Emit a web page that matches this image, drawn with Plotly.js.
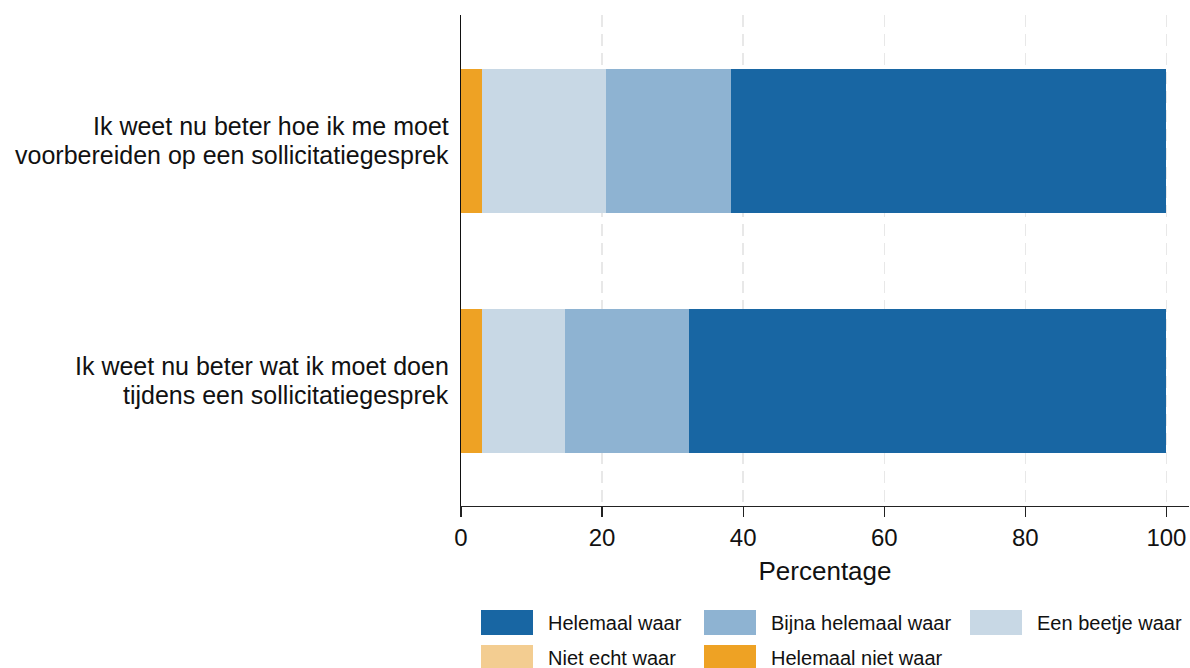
<!DOCTYPE html>
<html>
<head>
<meta charset="utf-8">
<script src="https://cdn.plot.ly/plotly-3.0.1.min.js"></script>
<style>html,body{margin:0;padding:0;background:#fff;}#chart{width:1190px;height:668px;}</style>
</head>
<body>
<div id="chart"></div>
<script>
// Categories (bottom to top)
var categories = [
  "Ik weet nu beter wat ik moet doen<br>tijdens een sollicitatiegesprek",
  "Ik weet nu beter hoe ik me moet<br>voorbereiden op een sollicitatiegesprek"
];
// Series in stacking order (left to right)
var helemaalNietWaar = [2.94, 2.94];
var nietEchtWaar     = [0, 0];
var eenBeetjeWaar    = [11.76, 17.65];
var bijnaHelemaalWaar= [17.65, 17.65];
var helemaalWaar     = [67.65, 61.76];
var xTicks = [0, 20, 40, 60, 80, 100];

var seriesNames  = ["Helemaal niet waar", "Niet echt waar", "Een beetje waar", "Bijna helemaal waar", "Helemaal waar"];
var seriesValues = [helemaalNietWaar, nietEchtWaar, eenBeetjeWaar, bijnaHelemaalWaar, helemaalWaar];
var seriesColors = ["#eea224", "#f3cd91", "#c8d8e5", "#8eb3d2", "#1866a3"];

var FONT = 'Liberation Sans, Arial, sans-serif';

var traces = seriesNames.map(function(n, i){
  return {
    type: 'bar', orientation: 'h', name: n,
    y: categories, x: seriesValues[i],
    marker: {color: seriesColors[i], line: {width: 0}},
    width: 0.6, showlegend: false, hoverinfo: 'x+name'
  };
});

// Plot area geometry in pixels (for custom legend)
var L = 461, R = 1189, T = 15, B = 506;
function px(x){ return (x - L) / (R - L); }
function py(y){ return (B - y) / (B - T); }

var shapes = [], annotations = [];

// Category labels with tight line spacing
categories.forEach(function(cat){
  var lines = cat.split('<br>');
  lines.forEach(function(line, j){
    annotations.push({xref:'paper', yref:'y', x: 0, y: cat, xanchor:'right', yanchor:'middle',
      xshift: -10, yshift: j === 0 ? 15.5 : -13.5, showarrow:false, text: line,
      font:{family: FONT, size: 25, color:'#111'}});
  });
});

// Legend order and layout
var legendOrder = [4, 3, 2, 1, 0];
var colX = [481, 704, 970];
var rowY = [610, 645];
legendOrder.forEach(function(si, k){
  var c = k % 3, r = Math.floor(k / 3);
  var x0 = colX[c], y0 = rowY[r];
  shapes.push({type:'rect', xref:'paper', yref:'paper',
    x0: px(x0), x1: px(x0 + 52), y0: py(y0), y1: py(y0 + 25),
    fillcolor: seriesColors[si], line:{width:0}});
  annotations.push({xref:'paper', yref:'paper', x: px(x0 + 65), y: py(y0 + 13),
    xanchor:'left', yanchor:'middle', showarrow:false, text: seriesNames[si],
    font:{family: FONT, size: 20, color:'#111'}});
});

var layout = {
  width: 1190, height: 668,
  margin: {l: L, r: 1190 - R, t: T, b: 668 - B},
  barmode: 'stack',
  paper_bgcolor: '#fff', plot_bgcolor: '#fff',
  font: {family: FONT, color: '#111'},
  xaxis: {
    range: [0, 103.2], tickvals: xTicks, ticktext: xTicks.map(String),
    showgrid: true, gridcolor: '#e8e8e8', gridwidth: 1.5, griddash: '12px,7px',
    zeroline: false, showline: true, linecolor: '#222', linewidth: 1.3,
    ticks: 'outside', ticklen: 10, tickwidth: 1.3, tickcolor: '#222',
    tickfont: {size: 24}, title: {text: 'Percentage', font: {size: 26}, standoff: 11}
  },
  yaxis: {
    type: 'category', categoryorder: 'array', categoryarray: categories,
    range: [-0.52, 1.525], showgrid: false, zeroline: false,
    showline: true, linecolor: '#111', linewidth: 1.5,
    ticks: '', showticklabels: false
  },
  shapes: shapes, annotations: annotations
};

Plotly.newPlot('chart', traces, layout, {displayModeBar: false, staticPlot: true});
</script>
</body>
</html>
